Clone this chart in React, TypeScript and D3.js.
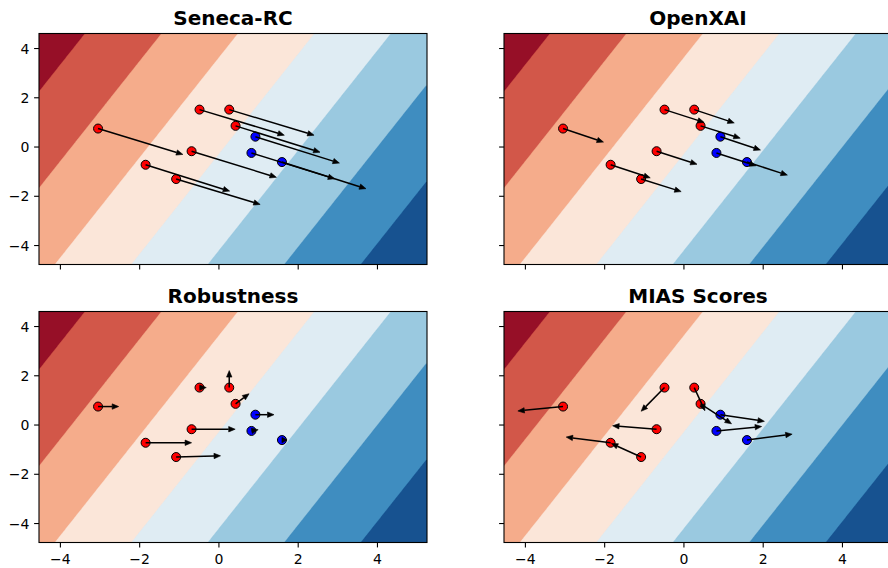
import React, { useMemo } from 'react';
import * as d3 from 'd3';

const W = 888;
const H = 568;

// the ten samples, shared by every panel
const pointX = [-3.05, -0.49, 0.26, 0.42, 0.92, 0.82, 1.59, -0.69, -1.85, -1.08];
const pointY = [0.75, 1.52, 1.52, 0.86, 0.42, -0.24, -0.61, -0.17, -0.72, -1.3];
const pointClass = [0, 0, 0, 0, 1, 1, 1, 0, 0, 0];
const classColors = ['#ff0000', '#0000ff'];

// explanation arrows per method (data units)
const senecaDx = [2.14, 2.14, 2.14, 2.13, 2.12, 2.1, 2.12, 2.14, 2.12, 2.12];
const senecaDy = [-1.05, -1.04, -1.04, -1.07, -1.07, -1.05, -1.08, -1.06, -1.07, -1.03];
const openxaiDx = [1.02, 1.0, 1.01, 1.0, 1.01, 1.0, 1.02, 1.02, 1.0, 1.01];
const openxaiDy = [-0.55, -0.52, -0.54, -0.5, -0.54, -0.52, -0.53, -0.53, -0.53, -0.51];
const robustDx = [0.52, 0.17, 0, 0.34, 0.47, 0.17, 0.13, 1.1, 1.16, 1.12];
const robustDy = [0, 0, 0.69, 0.41, 0, 0.05, 0, 0, 0, 0.05];
const miasDx = [-1.14, -0.59, 0.27, 0.78, 1.11, 1.14, 1.14, -1.11, -1.12, -0.75];
const miasDy = [-0.18, -0.96, -0.94, -0.81, -0.27, 0.18, 0.24, 0.14, 0.23, 0.55];

const titles = ['Seneca-RC', 'OpenXAI', 'Robustness', 'MIAS Scores'];

const xTicks = [-4, -2, 0, 2, 4];
const yTicks = [4, 2, 0, -2, -4];
const xDomain = [-4.54, 5.25];
const yDomain = [-4.77, 4.61];

// decision surface z = x - y / slope, filled between these levels
const surfaceSlope = 2.03;
const levels = [-7.59, -5.65, -3.72, -1.79, 0.14, 2.07, 4.0, 5.93, 7.86];

// matplotlib RdBu anchor colours
const rdbu = ['#67001f', '#b2182b', '#d6604d', '#f4a582', '#fddbc7', '#f7f7f7',
  '#d1e5f0', '#92c5de', '#4393c3', '#2166ac', '#053061'];

const PW = 388;
const PH = 231;
const lefts = [39, 504];
const tops = [33.5, 311.5];

const NX = 240;
const NY = 150;

const fmt = (v: number) => String(v).replace('-', '\u2212');

function Panel({ idx, dx, dy }: { idx: number; dx: number[]; dy: number[] }) {
  const col = idx % 2;
  const row = Math.floor(idx / 2);
  const left = lefts[col];
  const top = tops[row];
  const x = d3.scaleLinear().domain(xDomain).range([left, left + PW]);
  const y = d3.scaleLinear().domain(yDomain).range([top + PH, top]);

  const cmap = d3.scaleLinear<string>()
    .domain(d3.range(rdbu.length).map(i => i / (rdbu.length - 1)))
    .range(rdbu)
    .interpolate(d3.interpolateRgb);

  const bands = useMemo(() => {
    const sx = (xDomain[1] - xDomain[0]) / NX;
    const sy = (yDomain[1] - yDomain[0]) / NY;
    const grid = new Float64Array(NX * NY);
    for (let j = 0; j < NY; j++) {
      for (let i = 0; i < NX; i++) {
        const gx = xDomain[0] + (i + 0.5) * sx;
        const gy = yDomain[1] - (j + 0.5) * sy;
        grid[j * NX + i] = gx - gy / surfaceSlope;
      }
    }
    return { grid, sx, sy };
  }, []);

  const contours = d3.contours().size([NX, NY]).thresholds(levels.slice(0, -1))(bands.grid as any);
  const path = d3.geoPath(d3.geoTransform({
    point(cx: number, cy: number) {
      (this as any).stream.point(x(xDomain[0] + cx * bands.sx), y(yDomain[1] - cy * bands.sy));
    },
  }));
  const nBands = levels.length - 1;
  const clipId = `clip${idx}`;

  const arrows = pointX.map((px, i) => {
    const x0 = x(px), y0 = y(pointY[i]);
    const x1 = x(px + dx[i]), y1 = y(pointY[i] + dy[i]);
    const L = Math.hypot(x1 - x0, y1 - y0);
    const ux = (x1 - x0) / L, uy = (y1 - y0) / L;
    const hl = Math.min(6.5, L);
    const hw = 2.7;
    const bx = x1 - ux * hl, by = y1 - uy * hl;
    return (
      <g key={i}>
        {L > hl && <line x1={x0} y1={y0} x2={bx} y2={by} stroke="#000" strokeWidth={1.5} />}
        <polygon
          points={`${x1},${y1} ${bx - uy * hw},${by + ux * hw} ${bx + uy * hw},${by - ux * hw}`}
          fill="#000" stroke="#000" strokeWidth={0.6} />
      </g>
    );
  });

  return (
    <g>
      <clipPath id={clipId}>
        <rect x={left} y={top} width={PW} height={PH} />
      </clipPath>
      <g clipPath={`url(#${clipId})`}>
        {contours.map((c, i) => (
          <path key={i} d={path(c as any) || ''} fill={cmap((i + 0.5) / nBands)} stroke={cmap((i + 0.5) / nBands)} strokeWidth={0.3} />
        ))}
      </g>
      {pointX.map((px, i) => (
        <circle key={i} cx={x(px)} cy={y(pointY[i])} r={4.5} fill={classColors[pointClass[i]]} stroke="#000" strokeWidth={1} />
      ))}
      {arrows}
      <rect x={left} y={top} width={PW} height={PH} fill="none" stroke="#000" strokeWidth={1.1} />
      {xTicks.map(t => (
        <g key={t}>
          <line x1={x(t)} x2={x(t)} y1={top + PH} y2={top + PH + 4.9} stroke="#000" strokeWidth={1.1} />
          {row === 1 && (
            <text x={x(t)} y={top + PH + 21} textAnchor="middle" fontSize={14} fontFamily="DejaVu Sans">{fmt(t)}</text>
          )}
        </g>
      ))}
      {yTicks.map(t => (
        <g key={t}>
          <line x1={left - 4.9} x2={left} y1={y(t)} y2={y(t)} stroke="#000" strokeWidth={1.1} />
          {col === 0 && (
            <text x={left - 9.5} y={y(t)} dy="0.36em" textAnchor="end" fontSize={14} fontFamily="DejaVu Sans">{fmt(t)}</text>
          )}
        </g>
      ))}
      <text x={left + PW / 2} y={top - 8.8} textAnchor="middle" fontSize={20} fontWeight="bold" fontFamily="DejaVu Sans">
        {titles[idx]}
      </text>
    </g>
  );
}

export default function App() {
  const vectors = [
    [senecaDx, senecaDy],
    [openxaiDx, openxaiDy],
    [robustDx, robustDy],
    [miasDx, miasDy],
  ];
  return (
    <svg width={W} height={H} style={{ position: 'absolute', left: 0, top: 0, background: '#fff' }}>
      {vectors.map((v, i) => (
        <Panel key={i} idx={i} dx={v[0]} dy={v[1]} />
      ))}
    </svg>
  );
}
